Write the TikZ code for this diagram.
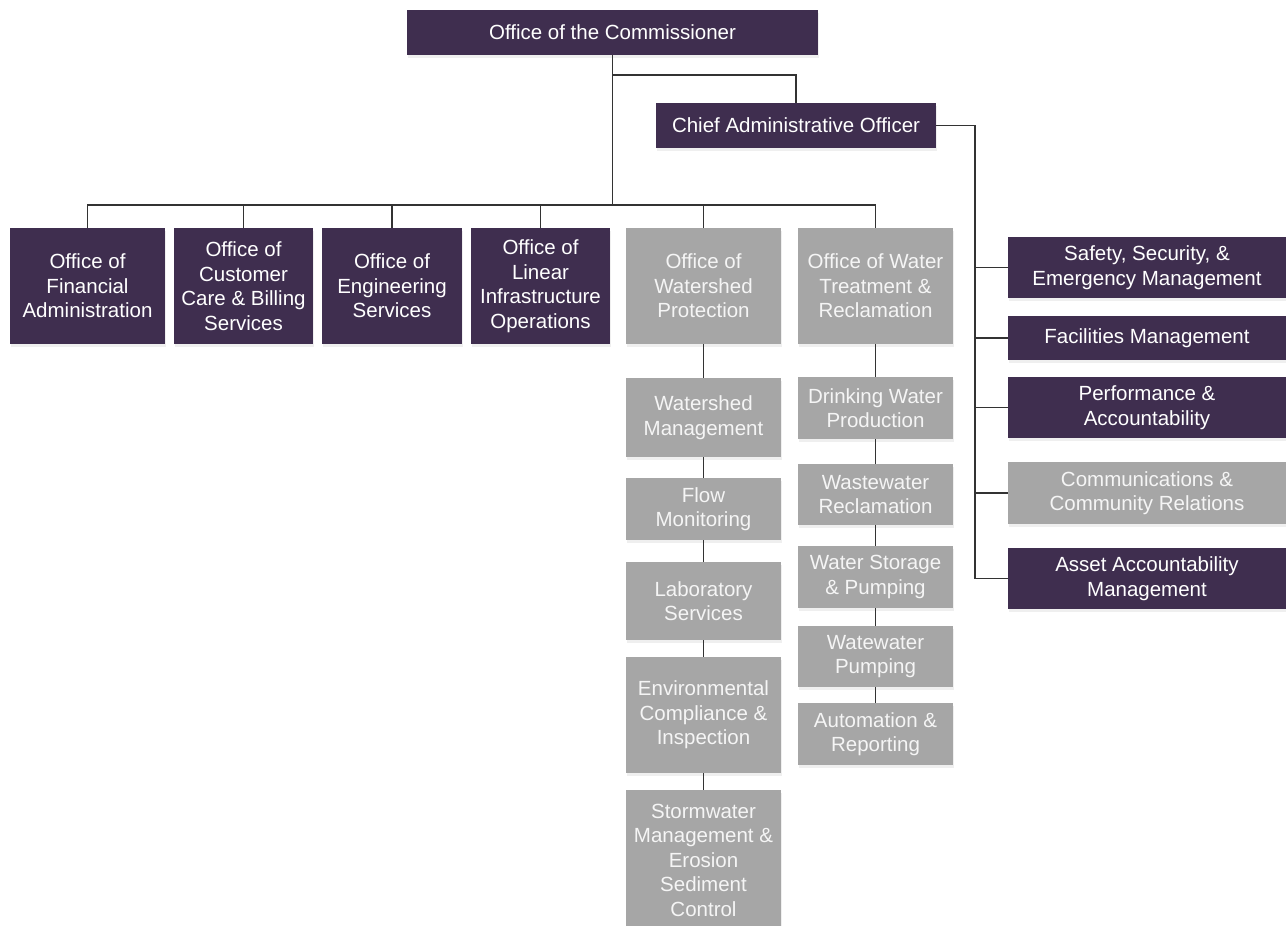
\documentclass[tikz,border=0pt]{standalone}
\usepackage{fontspec}
\setmainfont{Liberation Sans}
\usetikzlibrary{shadows}
\definecolor{purp}{HTML}{3F2E4F}
\definecolor{grayb}{HTML}{A6A6A6}
\definecolor{graytxt}{HTML}{F5F5F5}
\definecolor{linec}{HTML}{333333}
\begin{document}
\begin{tikzpicture}[x=1pt,y=-1pt,
  basebox/.style={inner sep=0pt, align=center, font=\fontsize{20.5}{24.5}\selectfont,
    drop shadow={opacity=0.12, shadow xshift=1pt, shadow yshift=-2.5pt}},
  pbox/.style={basebox, fill=purp, text=white},
  gbox/.style={basebox, fill=grayb, text=graytxt},
  conn/.style={draw=linec, line width=1.4pt}]
\useasboundingbox (0,0) rectangle (1286,926);
\fill[white] (0,0) rectangle (1286,926);

% top
\node[pbox, minimum width=411, minimum height=45] (comm) at (612.5,32.5) {Office of the Commissioner};
\node[pbox, minimum width=280, minimum height=45] (chief) at (796,125.5) {Chief Administrative Officer};

% row 1
\node[pbox, minimum width=155, minimum height=116] (fin) at (87.5,286) {Office of\\Financial\\Administration};
\node[pbox, minimum width=139, minimum height=116] (cust) at (243.5,286) {Office of\\Customer\\Care \& Billing\\Services};
\node[pbox, minimum width=140, minimum height=116] (eng) at (392,286) {Office of\\Engineering\\Services};
\node[pbox, minimum width=139, minimum height=116] (lin) at (540.5,286) {Office of\\Linear\\Infrastructure\\Operations};
\node[gbox, minimum width=155, minimum height=116] (wsp) at (703.5,286) {Office of\\Watershed\\Protection};
\node[gbox, minimum width=155, minimum height=116] (wtr) at (875.5,286) {Office of Water\\Treatment \&\\Reclamation};

% watershed column
\node[gbox, minimum width=155, minimum height=79] (wm) at (703.5,417.5) {Watershed\\Management};
\node[gbox, minimum width=155, minimum height=62] (fm) at (703.5,509) {Flow\\Monitoring};
\node[gbox, minimum width=155, minimum height=78] (lab) at (703.5,601) {Laboratory\\Services};
\node[gbox, minimum width=155, minimum height=116] (env) at (703.5,715) {Environmental\\Compliance \&\\Inspection};
\node[gbox, minimum width=155, minimum height=140] (storm) at (703.5,860) {Stormwater\\Management \&\\Erosion\\Sediment\\Control};

% water treatment column
\node[gbox, minimum width=155, minimum height=62] (dw) at (875.5,408) {Drinking Water\\Production};
\node[gbox, minimum width=155, minimum height=61] (ww) at (875.5,494.5) {Wastewater\\Reclamation};
\node[gbox, minimum width=155, minimum height=62] (ws) at (875.5,577) {Water Storage\\\& Pumping};
\node[gbox, minimum width=155, minimum height=61] (wp) at (875.5,656.5) {Watewater\\Pumping};
\node[gbox, minimum width=155, minimum height=62] (ar) at (875.5,734) {Automation \&\\Reporting};

% right column
\node[pbox, minimum width=278, minimum height=61] (safe) at (1147,267.5) {Safety, Security, \&\\Emergency Management};
\node[pbox, minimum width=278, minimum height=44] (fac) at (1147,338) {Facilities Management};
\node[pbox, minimum width=278, minimum height=61] (perf) at (1147,407.5) {Performance \&\\Accountability};
\node[gbox, minimum width=278, minimum height=62] (comms) at (1147,493) {Communications \&\\Community Relations};
\node[pbox, minimum width=278, minimum height=61] (asset) at (1147,578.5) {Asset Accountability\\Management};

% connectors
\coordinate (busy) at (0,205);
\coordinate (cb) at (613,75);
\coordinate (rv) at (975,126);
\draw[conn] (comm.south) -- (comm.south |- busy);
\draw[conn] (comm.south |- cb) -| (chief.north);
\draw[conn] (fin.north) -- (fin.north |- busy) -| (wtr.north);
\draw[conn] (cust.north) -- (cust.north |- busy);
\draw[conn] (eng.north) -- (eng.north |- busy);
\draw[conn] (lin.north) -- (lin.north |- busy);
\draw[conn] (wsp.north) -- (wsp.north |- busy);
\draw[conn] (chief.east) -| (rv |- asset.west) -- (asset.west);
\draw[conn] (rv |- safe.west) -- (safe.west);
\draw[conn] (rv |- fac.west) -- (fac.west);
\draw[conn] (rv |- perf.west) -- (perf.west);
\draw[conn] (rv |- comms.west) -- (comms.west);
\draw[conn] (wsp) -- (wm);
\draw[conn] (wm) -- (fm);
\draw[conn] (fm) -- (lab);
\draw[conn] (lab) -- (env);
\draw[conn] (env) -- (storm);
\draw[conn] (wtr) -- (dw);
\draw[conn] (dw) -- (ww);
\draw[conn] (ww) -- (ws);
\draw[conn] (ws) -- (wp);
\draw[conn] (wp) -- (ar);
\end{tikzpicture}
\end{document}
